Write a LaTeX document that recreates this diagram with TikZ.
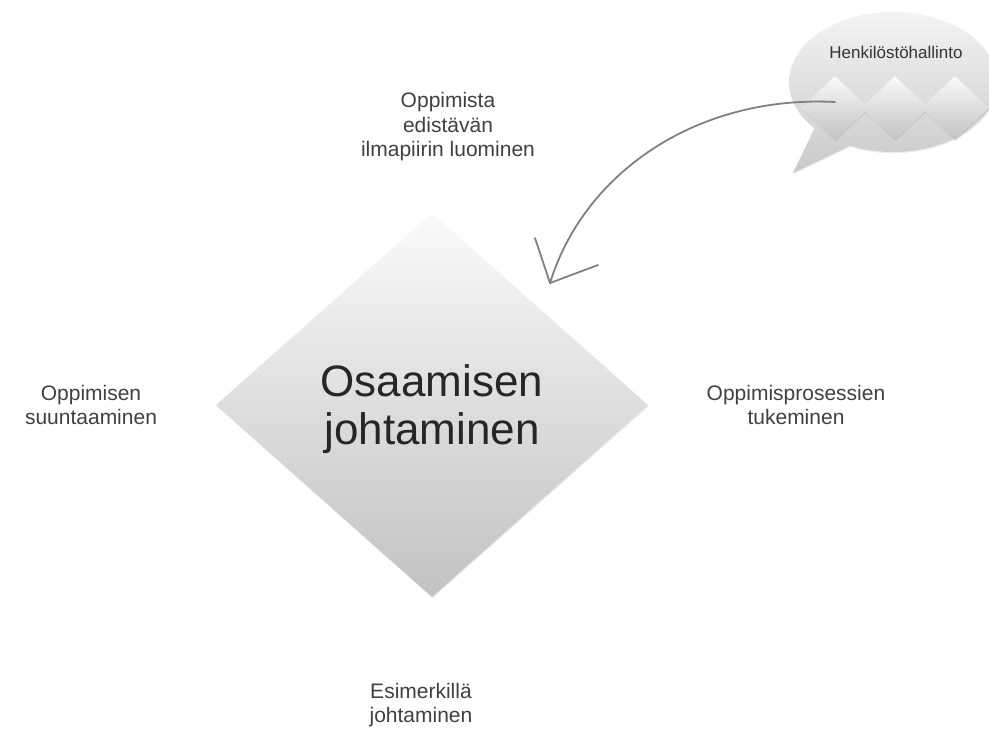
\documentclass[tikz,border=0pt]{standalone}
\usepackage{fontspec}
\setmainfont{Liberation Sans}
\usepackage{tikz}
\usetikzlibrary{calc,shapes.geometric,shadows}

\begin{document}
\begin{tikzpicture}[x=1pt,y=-1pt,
    tile/.style={diamond,inner sep=0pt,top color=white!98!black,bottom color=white!76!black,
                 drop shadow={opacity=0.18,shadow xshift=0.6pt,shadow yshift=-1.2pt}},
    label/.style={align=center,text=black!75,font=\fontsize{21}{24.5}\selectfont},
    arrowline/.style={draw=black!50,line width=1.8pt,line cap=round,line join=round}]
    \useasboundingbox (0,0) rectangle (989,729);
    % speech bubble
    \coordinate (bubblec) at (893,82);
    \shade[top color=white!96!black,bottom color=white!79!black,
           drop shadow={opacity=0.15,shadow xshift=0.6pt,shadow yshift=-1.2pt}]
        ($(bubblec)+(138.9:104 and 70)$) arc[start angle=138.9,end angle=474.4,x radius=104,y radius=70]
        -- (793,173) -- cycle;
    \node[anchor=base,text=black!80,font=\fontsize{17}{19}\selectfont] (hrtext) at (896,58) {Henkilöstöhallinto};
    \node[tile,minimum width=68pt,minimum height=64pt] (hr1) at (835,108) {};
    \node[tile,minimum width=68pt,minimum height=64pt] (hr2) at (895,108) {};
    \node[tile,minimum width=68pt,minimum height=64pt] (hr3) at (955,108) {};
    % main diamond
    \node[tile,minimum width=432pt,minimum height=384pt,align=center,text=black!85,text depth=0pt,
          font=\fontsize{44}{48}\selectfont] (osaaminen) at (432,405) {Osaamisen\\johtaminen};
    % labels
    \node[label] (ilmapiiri) at (448,127) {Oppimista\\edistävän\\ilmapiirin luominen};
    \node[label] (suunta) at (91,405) {Oppimisen\\suuntaaminen};
    \node[label] (tuki) at (796,405) {Oppimisprosessien\\tukeminen};
    \node[label] (esimerkki) at (421,705) {Esimerkillä\\johtaminen};
    % arrow
    \coordinate (arrowstart) at ($(hr1.center)+(0,-6)$);
    \coordinate (arrowtip) at (550,283);
    \draw[arrowline] (arrowstart) .. controls (700,95) and (585,170) .. (arrowtip);
    \draw[arrowline] ($(arrowtip)+(-15,-45)$) -- (arrowtip) -- ($(arrowtip)+(48,-18)$);
\end{tikzpicture}
\end{document}
